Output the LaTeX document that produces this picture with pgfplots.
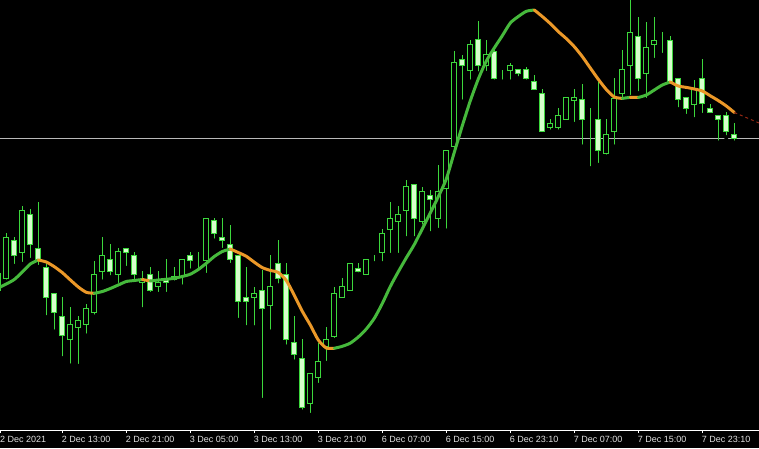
\documentclass[border=0pt]{standalone}
\usepackage{pgfplots}
\usepackage{pgfplotstable}
\pgfplotsset{compat=1.18}
\usepackage{fontspec}
\setmainfont{Liberation Sans}
\definecolor{cgreen}{RGB}{60,215,60}
\definecolor{cbody}{RGB}{215,255,205}
\definecolor{magreen}{RGB}{70,185,60}
\definecolor{maorange}{RGB}{235,152,40}
\definecolor{madash}{RGB}{150,40,20}
\definecolor{pline}{RGB}{185,185,185}
\definecolor{axtext}{RGB}{225,225,225}

\pgfplotstableread{
k open high low close
-1 140 162 128 157
0 152 197.3 148.3 192.3
1 189.3 193.3 164 174.7
2 177.7 224.3 166 220
3 215.7 220.7 170 185.7
4 181.7 228.3 163 170.7
5 162.7 166 112.7 132.7
6 136.7 137 98.3 117.7
7 114 133.3 71.7 94.3
8 90.7 122.7 64.3 105.7
9 102.7 114 64 109.7
10 105.7 125.7 94.3 121.7
11 117.7 169.3 113.3 155.7
12 158.3 193.3 148.3 175
13 171 186 152.7 158.3
14 156 182.3 145 178.3
15 181.7 182 162 177.3
16 175 178.3 146.7 155.7
17 147.7 159.3 120.7 151
18 155.7 163.3 136 140
19 143.3 159 136 147.7
20 150.7 171 136 148
21 150.7 163.3 147.3 154
22 153.3 170.7 143.3 170.7
23 175 178.3 159.3 170
24 167 178.3 158.3 167
25 170 211.7 155 211.7
26 209.3 211.7 189.3 196.7
27 192.7 211.7 180 189.3
28 185.7 205 165 170.7
29 175 175 110 129
30 132.7 163.3 102.7 128.7
31 132.3 142.7 102.5 136.7
32 140 160 30 121.7
33 124.3 175 98.3 143.7
34 166.7 190 144.5 151.7
35 156 167 83.3 90.7
36 87.3 114 68.3 76
37 71.7 90.7 18.3 22.7
38 26.7 56.7 15 56.7
39 53 86.7 45 68.3
40 83.3 103.3 67 90.7
41 94 143.3 90 136.7
42 132.7 151.7 131 143.5
43 140 166.7 140 166.7
44 162 166.7 155.5 158.3
45 156 170.7 156 170.7
46 175 175 166.7 175
47 177.7 200.7 166.7 196.7
48 200.7 228.3 175 211.7
49 208.3 224 175 215.7
50 219.3 250 191.7 243.3
51 245.7 245.7 191.7 211.7
52 208.3 243.3 203.3 239
53 235 240 196.7 230.7
54 211.7 265 200 238.3
55 241.7 280 199.3 280
56 283.3 379 278.3 367
57 370.7 375 328.3 364
58 359.3 390 348.3 385.7
59 390 409 356.5 364
60 364 390 357 375
61 378.3 383.3 348.3 351.7
62 356 360 348.3 356
63 359.3 367.3 348.3 364
64 360 360 351.7 356
65 360 363.5 348.3 351.7
66 348.3 355 340.7 340.7
67 336.7 340.7 299 299
68 302.5 311 298.3 306.7
69 302.5 321.7 298.3 314.3
70 310.7 332.7 310.7 332.7
71 329.3 340.7 306 332.7
72 330 346 283.3 310.7
73 306.7 321.7 261.7 306.7
74 310.7 348.3 265 280
75 276.7 310.7 273.3 295.7
76 299 351.7 283.3 331.7
77 336 380 330 360
78 364 431 333 397.7
79 393.3 413.3 336.7 351.7
80 356 408.3 330 382.7
81 385.7 412.7 370 389.3
82 395 398.3 375 395
83 389.3 394 346.7 348.3
84 351.7 351.7 320.7 330
85 332.3 332.3 314 321.7
86 325.7 350 310.7 340
87 351.7 370.7 315 326
88 321.7 326 315 317.7
89 314.3 314.3 287.3 310.7
90 314.3 317.7 292.7 298.3
91 295.7 306.7 287.3 292
}\candles

\pgfplotstableread{
k ma
-1 142
0 146
1 150.5
2 158
3 166
4 170
5 168
6 163.3
7 157.4
8 150.1
9 143
10 137.7
11 136.7
12 138.5
13 141.5
14 145
15 148.5
16 149.5
17 150.5
18 149
19 150
20 150.7
21 151.7
22 153.5
23 155.8
24 160.5
25 166.7
26 173.5
27 178.5
28 181
29 177.5
30 173.7
31 167.8
32 162.4
33 159.6
34 157.5
35 149.5
36 134.7
37 118.7
38 105
39 90
40 82
41 81.7
42 83.7
43 86.9
44 93
45 101
46 111.7
47 126.5
48 143.5
49 158.3
50 172.2
51 185.5
52 201.2
53 217.2
54 233.3
55 251
56 277.7
57 304.3
58 329.2
59 351
60 368.9
61 382.1
62 394.3
63 407
64 413.5
65 418.7
66 420
67 413.5
68 406.4
69 398.4
70 391.4
71 383.3
72 373.4
73 362
74 350.7
75 340.5
76 333
77 331.6
78 332.7
79 332.5
80 335
81 340
82 345
83 348
84 344
85 342.6
86 341
87 339
88 334.2
89 329.4
90 324
91 317.5
}\mavalues

\pgfplotsset{common/.style={
  scale only axis, width=759pt, height=430pt,
  xmin=-0.7875, xmax=94.0875, ymin=0, ymax=430,
  enlargelimits=false, at={(0pt,18pt)}, anchor=south west}}

\begin{document}
\begin{tikzpicture}
\useasboundingbox (0,0) rectangle (759pt,448pt);
\fill[black] (0,0) rectangle (759pt,448pt);

% axis with ticks, price line and wicks
\begin{axis}[common,
  axis x line=bottom, axis y line=none,
  x axis line style={white, line width=1pt, -},
  tick align=outside, major tick length=3pt,
  xtick style={white, line width=1pt},
  xtick={7,15,23,31,39,47,55,63,71,79,87},
  xticklabels={2 Dec 13:00,2 Dec 21:00,3 Dec 05:00,3 Dec 13:00,3 Dec 21:00,6 Dec 07:00,6 Dec 15:00,6 Dec 23:10,7 Dec 07:00,7 Dec 15:00,7 Dec 23:10},
  xticklabel style={font=\fontsize{9}{10}\selectfont, text=axtext, anchor=base west, inner sep=0pt, xshift=-0.6pt, yshift=-9pt},
  extra x ticks={-0.78},
  extra x tick labels={2 Dec 2021},
  extra x tick style={xticklabel style={xshift=0.4pt}},
  ytick=\empty]
\addplot[pline, line width=1pt] coordinates {(-1,292) (95,292)};
\addplot[only marks, mark=none,
  error bars/.cd, y dir=plus, y explicit, error mark=none,
  error bar style={draw=cgreen, line width=1pt}]
  table[x=k, y=low, y error expr=\thisrow{high}-\thisrow{low}] {\candles};
\end{axis}

% candle bodies
\begin{axis}[common, hide axis, ybar stacked, bar width=0.625]
\addplot[fill=none, draw=none] table[x=k, y expr={min(\thisrow{open},\thisrow{close})}] {\candles};
\addplot[fill=black, draw=cgreen, line width=1pt] table[x=k, y expr={max(\thisrow{close}-\thisrow{open},0)}] {\candles};
\addplot[fill=cbody, draw=cgreen, line width=1pt] table[x=k, y expr={max(\thisrow{open}-\thisrow{close},0)}] {\candles};
\end{axis}

% moving average
\begin{axis}[common, hide axis]
\pgfplotsset{every axis plot/.append style={line width=3pt, line join=round, line cap=round, mark=none, smooth, tension=0.4}}
\addplot[magreen, restrict x to domain=-1:4] table[x=k, y=ma] {\mavalues};
\addplot[maorange, restrict x to domain=4:11] table[x=k, y=ma] {\mavalues};
\addplot[magreen, restrict x to domain=11:17] table[x=k, y=ma] {\mavalues};
\addplot[maorange, restrict x to domain=17:18] table[x=k, y=ma] {\mavalues};
\addplot[magreen, restrict x to domain=18:28] table[x=k, y=ma] {\mavalues};
\addplot[maorange, restrict x to domain=28:41] table[x=k, y=ma] {\mavalues};
\addplot[magreen, restrict x to domain=41:66] table[x=k, y=ma] {\mavalues};
\addplot[maorange, restrict x to domain=66:77] table[x=k, y=ma] {\mavalues};
\addplot[magreen, restrict x to domain=77:78] table[x=k, y=ma] {\mavalues};
\addplot[maorange, restrict x to domain=78:79] table[x=k, y=ma] {\mavalues};
\addplot[magreen, restrict x to domain=79:83] table[x=k, y=ma] {\mavalues};
\addplot[maorange, restrict x to domain=83:91] table[x=k, y=ma] {\mavalues};
\addplot[madash, line width=1pt, dashed, line cap=butt, sharp plot] coordinates {(91,317.5) (94.1,307)};
\end{axis}
\end{tikzpicture}
\end{document}
